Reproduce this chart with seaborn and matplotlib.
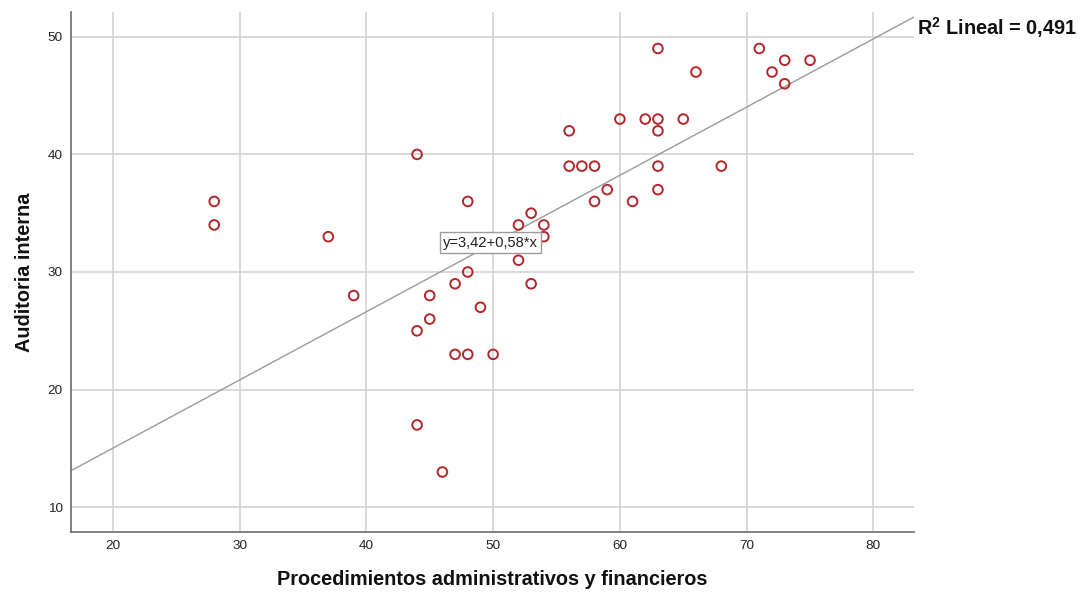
import numpy as np
import pandas as pd
import matplotlib
matplotlib.use("Agg")
import matplotlib.pyplot as plt
import seaborn as sns

# Scores per respondent
procedimientos = [28, 28, 37, 39, 44, 44, 44, 45, 45, 46, 47, 47, 48, 48, 48,
                  49, 50, 52, 52, 53, 53, 54, 54, 56, 56, 57, 58, 58, 59, 60,
                  61, 62, 63, 63, 63, 63, 63, 65, 66, 68, 71, 72, 73, 73, 75]
auditoria = [36, 34, 33, 28, 40, 25, 17, 28, 26, 13, 29, 23, 36, 30, 23,
             27, 23, 34, 31, 35, 29, 34, 33, 42, 39, 39, 39, 36, 37, 43,
             36, 43, 49, 43, 42, 39, 37, 43, 47, 39, 49, 47, 48, 46, 48]

# Linear fit reported on the chart
intercept = 3.42
slope = 0.58
r_squared = 0.491

x_ticks = [20, 30, 40, 50, 60, 70, 80]
y_ticks = [10, 20, 30, 40, 50]
x_limits = (16.7, 83.2)
y_limits = (7.9, 52.1)

sns.set_theme(style="white")
plt.rcParams["font.family"] = ["Liberation Sans", "DejaVu Sans"]
plt.rcParams["mathtext.fontset"] = "custom"
plt.rcParams["mathtext.rm"] = "Liberation Sans"
plt.rcParams["mathtext.bf"] = "Liberation Sans:bold"

fig = plt.figure(figsize=(10.85, 5.92), dpi=100)
ax = fig.add_axes([0.0654, 0.1014, 0.7770, 0.8783])

df = pd.DataFrame({"x": procedimientos, "y": auditoria})

# Grid behind everything
ax.set_axisbelow(True)
ax.grid(True, color="#d0d0d0", linewidth=1.1)

# Fit line across the full x range
fit_x = np.array(x_limits)
fit = pd.DataFrame({"x": fit_x, "y": intercept + slope * fit_x})
sns.lineplot(data=fit, x="x", y="y", ax=ax, color="#9a9a9a", linewidth=1.0,
             zorder=2)

sns.scatterplot(data=df, x="x", y="y", ax=ax, s=48, marker="o",
                facecolor="none", edgecolor="#b3262a", linewidth=1.4, zorder=3)

ax.set_xlim(*x_limits)
ax.set_ylim(*y_limits)
ax.set_xticks(x_ticks)
ax.set_yticks(y_ticks)
ax.tick_params(axis="both", length=0, labelsize=9.7, colors="#222222", pad=6)

for side in ("top", "right"):
    ax.spines[side].set_visible(False)
for side in ("left", "bottom"):
    ax.spines[side].set_color("#6b6b6b")
    ax.spines[side].set_linewidth(1.2)

ax.set_xlabel("Procedimientos administrativos y financieros", fontsize=14.3,
              fontweight="bold", labelpad=13, color="#111111")
ax.set_ylabel("Auditoria interna", fontsize=14.3, fontweight="bold",
              labelpad=10, color="#111111")

# Equation label on the fit line
eq = f"y={intercept:.2f}+{slope:.2f}*x".replace(".", ",")
ax.text(49.8, 32.5, eq, ha="center", va="center", fontsize=10.6,
        color="#222222", zorder=4,
        bbox=dict(boxstyle="square,pad=0.22", facecolor="white",
                  edgecolor="#9a9a9a", linewidth=1.0))

# R squared annotation at the right end of the line
r2_text = r"R$^{\mathbf{2}}$ Lineal = " + f"{r_squared:.3f}".replace(".", ",")
fig.text(0.8452, 0.953, r2_text, ha="left", va="center", fontsize=14.3,
         fontweight="bold", color="#111111")

fig.savefig("out.png", dpi=100)
